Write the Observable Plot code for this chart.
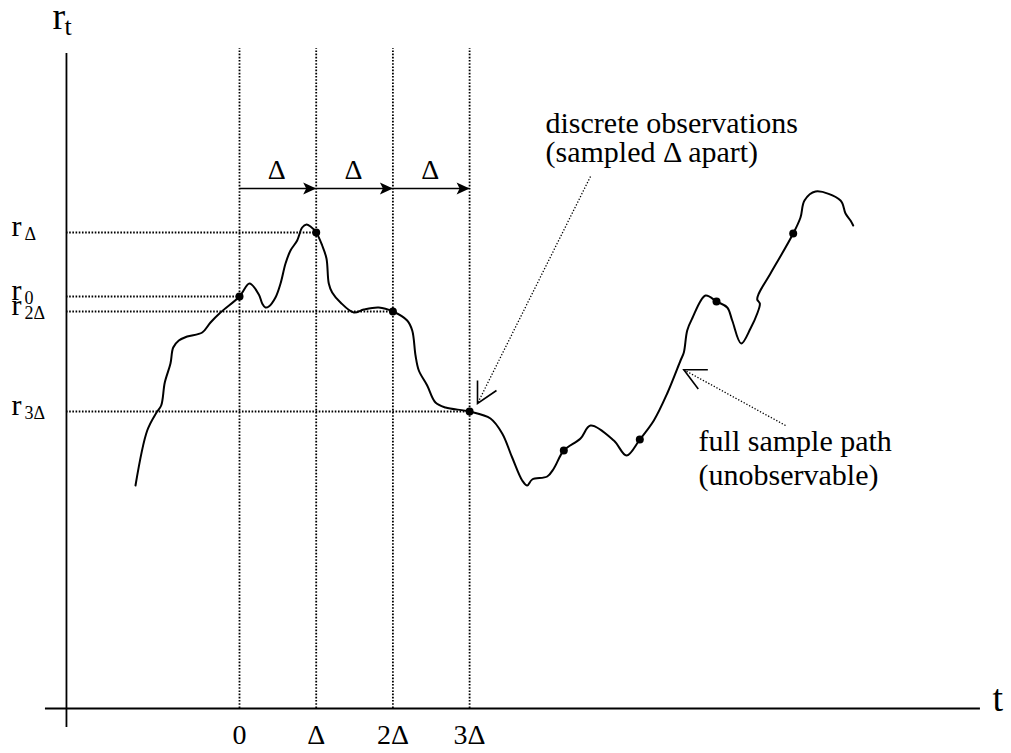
<!DOCTYPE html>
<html>
<head>
<meta charset="utf-8">
<script src="https://cdn.jsdelivr.net/npm/d3@7"></script>
<script src="https://cdn.jsdelivr.net/npm/@observablehq/plot@0.6"></script>
<style>
  html, body { margin: 0; padding: 0; background: white; }
  #chart svg { display: block; }
</style>
</head>
<body>
<div id="chart"></div>
<script>
// ---- data (t in units of Δ, r in arbitrary level units) ----
const pathT = [-1.356,-1.203,-1.082,-1.021,-0.974,-0.900,-0.864,-0.791,-0.682,-0.486,-0.378,-0.248,0,
  0.130,0.252,0.296,0.339,0.382,0.469,0.535,0.600,0.665,0.752,0.817,0.874,0.926,1.0,
  1.078,1.134,1.164,1.208,1.317,1.490,1.621,1.816,2.0,
  2.186,2.252,2.295,2.338,2.447,2.555,2.686,3.0,
  3.272,3.425,3.555,3.686,3.751,3.816,4.012,4.098,4.228,4.446,4.576,4.880,5.046,5.219,
  5.402,5.576,5.750,5.793,5.837,5.902,6.076,6.219,6.359,6.424,6.541,6.662,6.750,6.784,6.750,6.771,
  6.923,7.219,7.314,7.366,7.510,7.836,7.901,7.966,8.001];
const pathR = [2.23,2.78,2.96,3.03,3.26,3.45,3.61,3.68,3.72,3.76,3.86,3.96,4.12,
  4.25,4.14,4.05,4.01,4.02,4.11,4.25,4.45,4.58,4.68,4.81,4.84,4.82,4.76,
  4.63,4.50,4.25,4.16,4.06,3.96,3.99,4.01,3.97,
  3.88,3.78,3.53,3.38,3.23,3.06,3.01,2.97,
  2.90,2.75,2.51,2.28,2.23,2.29,2.32,2.40,2.58,2.70,2.83,2.68,2.53,2.69,
  2.88,3.15,3.48,3.56,3.78,3.90,4.13,4.07,4.01,3.88,3.65,3.80,3.95,4.05,4.09,4.15,
  4.35,4.75,4.91,5.08,5.17,5.08,4.95,4.88,4.83];

// discrete observations
const obsT = [0, 1, 2, 3, 4.228, 5.219, 6.219, 7.219];
const obsR = [4.12, 4.76, 3.97, 2.97, 2.58, 2.69, 4.07, 4.75];

// labelled sampling times
const sampleT = [0, 1, 2, 3];
const sampleLabels = ["0", "Δ", "2Δ", "3Δ"];
const levelSubs = ["0", "Δ", "2Δ", "3Δ"];

// interval arrows Δ
const intervalStart = [0, 1, 2];
const intervalEnd = [1, 2, 3];
const intervalLabel = ["Δ", "Δ", "Δ"];
const intervalLevel = 5.20;

// annotation text lines
const noteLines = ["discrete observations", "(sampled Δ apart)", "full sample path", "(unobservable)"];
const noteLineT = [3.99, 3.99, 5.985, 5.985];
const noteLineR = [5.76, 5.47, 2.58, 2.24];
// annotation pointers
const noteTailT = [4.576, 7.119];
const noteTailR = [5.32, 2.83];
const noteTipT = [3.103, 5.793];
const noteTipR = [3.05, 3.387];
const noteHeadArms = [[0, 55.6], [90, 143]]; // arm directions (deg, clockwise from up)

// axis extents
const tMin = -3.116, tMax = 10.065, rMin = -0.45, rMax = 7.08;
const yAxisT = -2.256, xAxisEndT = [-2.53, 9.66], yAxisEndR = [-0.19, 6.55];

// ---- derived tables ----
const path = pathT.map((t, i) => ({t, r: pathR[i]}));
const obs = obsT.map((t, i) => ({t, r: obsR[i]}));
const samples = sampleT.map((t, i) => ({t, r: obsR[i], label: sampleLabels[i], sub: levelSubs[i]}));
const intervals = intervalStart.map((s, i) => ({s, e: intervalEnd[i], m: (s + intervalEnd[i]) / 2, r: intervalLevel, label: intervalLabel[i]}));
const lines = noteLines.map((text, i) => ({text, t: noteLineT[i], r: noteLineR[i]}));
const pointers = noteTailT.map((t1, i) => ({t1, r1: noteTailR[i], t2: noteTipT[i], r2: noteTipR[i], arms: noteHeadArms[i]}));

// symbols (pixel-space shapes)
const filledHead = {draw(ctx) { ctx.moveTo(0, 0); ctx.lineTo(-13, -6); ctx.lineTo(-10, 0); ctx.lineTo(-13, 6); ctx.closePath(); }};
function openHead(arms, len) {
  return {draw(ctx) {
    const p = arms.map(a => [len * Math.sin(a * Math.PI / 180), -len * Math.cos(a * Math.PI / 180)]);
    ctx.moveTo(p[0][0], p[0][1]); ctx.lineTo(0, 0); ctx.lineTo(p[1][0], p[1][1]);
  }};
}

const font = '"Liberation Serif", "Times New Roman", serif';
const dotted = {stroke: "black", strokeWidth: 1.8, strokeDasharray: "1.6,1.6"};

const chart = Plot.plot({
  width: 1011, height: 753, margin: 0,
  style: {fontFamily: font, background: "white", color: "black"},
  x: {domain: [tMin, tMax], axis: null},
  y: {domain: [rMin, rMax], axis: null},
  marks: [
    // dotted guides
    Plot.ruleX(samples, {x: "t", y1: 0, y2: 6.6, ...dotted}),
    Plot.ruleY(samples, {y: "r", x1: yAxisT, x2: "t", ...dotted}),
    // axes
    Plot.ruleX([yAxisT], {y1: yAxisEndR[0], y2: yAxisEndR[1], stroke: "black", strokeWidth: 1.8}),
    Plot.ruleY([0], {x1: xAxisEndT[0], x2: xAxisEndT[1], stroke: "black", strokeWidth: 1.8}),
    // sample path
    Plot.line(path, {x: "t", y: "r", stroke: "black", strokeWidth: 2, curve: "catmull-rom"}),
    Plot.dot(obs, {x: "t", y: "r", r: 4, fill: "black", stroke: "none"}),
    // interval arrows
    Plot.link(intervals, {x1: "s", x2: "e", y1: "r", y2: "r", stroke: "black", strokeWidth: 1.3}),
    Plot.dot(intervals, {x: "e", y: "r", symbol: filledHead, fill: "black", stroke: "none", r: 5}),
    Plot.text(intervals, {x: "m", y: "r", text: "label", dy: -10, dx: -1, fontSize: 28, fontFamily: font, lineAnchor: "bottom"}),
    // annotations
    Plot.link(pointers, {x1: "t1", y1: "r1", x2: "t2", y2: "r2", stroke: "black", strokeWidth: 1.3, strokeDasharray: "1.3,1.8"}),
    Plot.dot([pointers[0]], {x: "t2", y: "r2", symbol: openHead(pointers[0].arms, 23), fill: "none", stroke: "black", strokeWidth: 1.6, r: 5}),
    Plot.dot([pointers[1]], {x: "t2", y: "r2", symbol: openHead(pointers[1].arms, 24), fill: "none", stroke: "black", strokeWidth: 1.6, r: 5}),
    Plot.text(lines, {x: "t", y: "r", text: "text", fontSize: 30, fontFamily: font, textAnchor: "start", lineAnchor: "bottom"}),
    // tick labels on t axis
    Plot.text(samples, {x: "t", y: 0, text: "label", fontSize: 28, fontFamily: font, dy: 35, lineAnchor: "bottom"}),
    // level labels
    Plot.text(samples, {x: tMin, y: "r", text: () => "r", fontSize: 30, fontFamily: font, dx: 11, dy: 3, textAnchor: "start", lineAnchor: "bottom"}),
    Plot.text(samples, {x: tMin, y: "r", text: "sub", fontSize: 18, fontFamily: font, dx: 24, dy: 7, textAnchor: "start", lineAnchor: "bottom"}),
    // axis titles
    Plot.text([{t: yAxisT, r: rMax}], {x: "t", y: "r", text: () => "r", fontSize: 38, fontFamily: font, dx: -14, dy: 28, textAnchor: "start", lineAnchor: "bottom"}),
    Plot.text([{t: yAxisT, r: rMax}], {x: "t", y: "r", text: () => "t", fontSize: 26, fontFamily: font, dx: -2, dy: 34, textAnchor: "start", lineAnchor: "bottom"}),
    Plot.text([{t: xAxisEndT[1], r: 0}], {x: "t", y: "r", text: () => "t", fontSize: 38, fontFamily: font, dx: 12, dy: 2, textAnchor: "start", lineAnchor: "bottom"})
  ]
});
document.getElementById("chart").appendChild(chart);
</script>
</body>
</html>
